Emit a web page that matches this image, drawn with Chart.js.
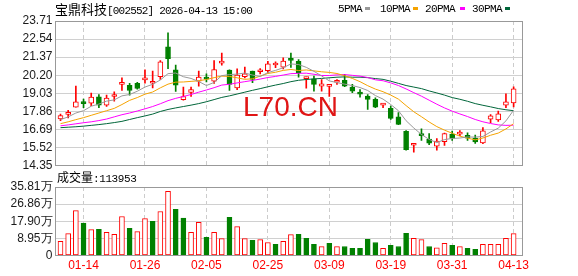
<!DOCTYPE html>
<html>
<head>
<meta charset="utf-8">
<script src="https://cdn.jsdelivr.net/npm/chart.js@4.4.1/dist/chart.umd.min.js"></script>
<style>
body{margin:0;width:578px;height:276px;position:relative;background:#fff;overflow:hidden;font-family:"Liberation Sans",Arial,sans-serif}
canvas{position:absolute;left:0;top:0}
.t{position:absolute;white-space:nowrap;color:#000;line-height:14px}
.cjk{font-family:"Noto Sans CJK SC",sans-serif}
.mono{font-family:"Liberation Mono",monospace}
.sw{position:absolute;width:5px;height:3px}
</style>
</head>
<body>
<canvas id="k" width="578" height="276"></canvas>
<canvas id="v" width="578" height="276"></canvas>

<div class="t" style="left:55px;top:2px"><span class="cjk" style="font-size:13px">宝鼎科技</span><span class="mono" style="font-size:11px;letter-spacing:-0.8px">[002552] 2026-04-13 15:00</span></div>

<div class="t mono" style="left:338px;top:2px;font-size:11px;letter-spacing:-0.6px">5PMA</div><div class="sw" style="left:365px;top:7px;background:#999"></div>
<div class="t mono" style="left:380px;top:2px;font-size:11px;letter-spacing:-0.6px">10PMA</div><div class="sw" style="left:413px;top:7px;background:#f5a300"></div>
<div class="t mono" style="left:425px;top:2px;font-size:11px;letter-spacing:-0.6px">20PMA</div><div class="sw" style="left:460px;top:7px;background:#ff00ff"></div>
<div class="t mono" style="left:472px;top:2px;font-size:11px;letter-spacing:-0.6px">30PMA</div><div class="sw" style="left:505px;top:7px;background:#00663a"></div>

<div class="t" style="left:243px;top:93px;font-size:28px;line-height:28px;color:#e01515">L70.CN</div>

<div class="t" style="left:57px;top:170px"><span class="cjk" style="font-size:12px">成交量</span><span class="mono" style="font-size:11px;letter-spacing:-0.4px">:113953</span></div>

<script>
// trading days shown, one per candle
const dates = ["01-09","01-12","01-13","01-14","01-15","01-16","01-19","01-20","01-21","01-22",
"01-23","01-26","01-27","01-28","01-29","01-30","02-02","02-03","02-04","02-05",
"02-06","02-09","02-10","02-11","02-12","02-13","02-24","02-25","02-26","02-27",
"03-02","03-03","03-04","03-05","03-06","03-09","03-10","03-11","03-12","03-13",
"03-16","03-17","03-18","03-19","03-20","03-23","03-24","03-25","03-26","03-27",
"03-30","03-31","04-01","04-02","04-03","04-07","04-08","04-09","04-10","04-13"]

const open = [17.36,17.66,18.13,18.38,18.39,18.80,18.26,18.82,19.60,19.55,
19.68,19.90,19.68,20.11,22.03,20.55,18.61,19.08,19.82,19.99,
19.82,20.98,20.53,19.38,20.11,20.46,20.42,20.50,20.86,20.72,
21.20,21.10,19.98,19.97,19.49,19.48,19.74,19.86,19.43,19.01,
18.84,18.63,18.26,18.05,17.51,16.57,15.66,16.32,16.06,15.61,
15.89,16.38,16.38,16.30,16.12,15.81,17.35,17.31,18.25,18.40]
const high = [17.68,17.92,19.49,18.65,19.04,18.95,18.91,19.12,20.03,19.68,
19.73,20.54,20.46,21.15,22.95,20.85,19.43,19.43,20.46,20.29,
21.15,21.64,20.55,20.61,20.72,20.46,20.63,21.10,21.06,21.32,
21.64,21.21,20.07,20.14,19.92,19.60,19.92,20.25,19.60,19.27,
18.95,18.74,18.37,18.20,17.77,16.61,15.77,16.73,16.41,16.09,
16.45,16.58,16.61,16.46,16.32,16.80,17.65,17.87,18.99,19.44]
const low = [17.25,17.44,18.13,18.09,18.22,18.09,18.18,18.52,19.21,18.91,
19.29,19.68,19.38,19.92,20.63,19.15,18.58,18.82,19.49,19.77,
19.66,20.85,19.21,19.26,20.03,19.71,20.29,20.35,20.68,20.61,
20.70,20.07,19.36,19.17,19.17,18.82,19.60,19.45,19.06,18.77,
17.98,18.09,18.09,17.34,17.00,15.34,15.21,15.98,15.70,15.34,
15.65,15.98,16.29,15.98,15.78,15.77,17.13,17.20,18.10,18.14]
const close = [17.58,17.77,18.48,18.36,18.78,18.26,18.71,18.91,19.64,19.21,
19.34,20.03,19.81,21.06,21.27,19.55,18.82,19.26,20.07,19.95,
20.57,21.02,19.60,20.20,20.29,19.92,20.53,20.93,20.90,21.12,
21.16,20.35,20.02,19.60,19.64,19.56,19.80,19.49,19.17,18.97,
18.63,18.13,18.35,17.40,17.01,15.38,15.75,16.28,15.80,15.93,
16.41,16.10,16.43,16.12,15.88,16.60,17.57,17.70,18.47,19.31]

// volume in 万 shares
const vol = [7.4,11.4,23.5,16.9,13.5,13.7,12.1,11.1,20.4,14.2,
12.5,19.3,17.9,23.0,33.5,24.2,19.5,12.1,17.4,9.5,
12.1,8.8,20.0,15.1,8.8,7.9,8.3,6.8,5.8,7.4,
10.9,11.1,9.0,5.8,4.6,6.3,4.6,4.7,3.7,3.7,
8.4,6.8,3.7,5.3,4.7,11.6,9.0,8.3,4.7,4.0,
6.3,5.3,4.6,3.7,3.2,5.8,5.8,5.8,9.0,11.4]

const ma5 = [17.32,17.50,17.75,17.90,18.19,18.33,18.52,18.60,18.86,18.95,
19.16,19.43,19.61,19.89,20.30,20.34,20.10,19.99,19.79,19.53,
19.73,20.17,20.24,20.27,20.34,20.21,20.11,20.37,20.51,20.68,
20.93,20.89,20.71,20.45,20.15,19.83,19.72,19.62,19.53,19.40,
19.21,18.88,18.65,18.30,17.90,17.25,16.78,16.36,16.04,15.83,
16.03,16.10,16.13,16.20,16.19,16.23,16.52,16.77,17.24,17.93]
const ma10 = [17.06,17.18,17.32,17.45,17.60,17.75,17.90,18.05,18.30,18.57,
18.75,18.97,19.11,19.38,19.62,19.75,19.76,19.80,19.84,19.92,
20.04,20.14,20.12,20.03,19.93,19.97,20.14,20.31,20.39,20.51,
20.57,20.50,20.54,20.48,20.42,20.38,20.31,20.16,19.99,19.78,
19.52,19.30,19.13,18.91,18.65,18.23,17.83,17.51,17.17,16.87,
16.64,16.44,16.25,16.12,16.01,16.13,16.31,16.45,16.72,17.06]
const ma20 = [16.92,16.98,17.05,17.12,17.18,17.26,17.36,17.50,17.64,17.75,
17.88,18.02,18.17,18.35,18.55,18.70,18.82,18.95,19.10,19.24,
19.39,19.56,19.61,19.70,19.78,19.86,19.95,20.05,20.12,20.21,
20.30,20.32,20.33,20.26,20.18,20.18,20.22,20.24,20.19,20.14,
20.05,19.90,19.84,19.70,19.53,19.31,19.07,18.84,18.58,18.32,
18.08,17.87,17.69,17.52,17.33,17.18,17.07,16.98,16.95,16.96]
const ma30 = [16.80,16.83,16.86,16.90,16.95,17.00,17.06,17.13,17.21,17.33,
17.45,17.56,17.68,17.85,17.98,18.08,18.17,18.26,18.36,18.48,
18.62,18.76,18.86,18.98,19.10,19.22,19.33,19.45,19.56,19.66,
19.78,19.87,19.92,19.96,19.99,20.03,20.07,20.09,20.07,20.07,
20.04,19.98,19.93,19.81,19.67,19.53,19.43,19.33,19.18,19.05,
18.91,18.75,18.64,18.51,18.36,18.25,18.15,18.04,17.96,17.90]

const priceTicks = [14.35,15.52,16.69,17.86,19.03,20.20,21.37,22.54,23.71]
const volTicks = [0,8.95,17.90,26.86,35.81]
const dateTicks = [3,11,19,27,35,43,51,59]

const RED = "#ff0000", GREEN = "#008000"
const up = close.map((c,i)=>c>open[i])
const volUp = close.map((c,i)=>i==0 || c>=close[i-1])

const frame = {
  id:"frame",
  afterDraw(c){
    const a = c.chartArea, x = c.ctx
    const al = p => Math.round(p-0.5)+0.5
    x.save()
    x.strokeStyle = "#999"
    x.lineWidth = 1
    x.strokeRect(al(a.left), al(a.top), al(a.right)-al(a.left), al(a.bottom)-al(a.top))
    x.restore()
  }
}

const xMin = -0.651, xMax = 60.156

function xAxis(showLabels){
  return {
    type:"linear", min:xMin, max:xMax, offset:false,
    afterBuildTicks: s => { s.ticks = dateTicks.map(v=>({value:v})) },
    afterFit: s => { s.height = showLabels ? 20.5 : 0 },
    border:{display:false, dash:[4,3]},
    grid:{color:"#cccccc", drawTicks:false, offset:false},
    ticks:{display:showLabels, padding:3, maxRotation:0, autoSkip:false,
      color:RED, font:{family:"Liberation Sans", size:12},
      callback: v => dates[v]}
  }
}

function yAxis(mn, mx, list, fmt, fsize){
  return {
    min:mn, max:mx,
    afterBuildTicks: s => { s.ticks = list.map(v=>({value:v})) },
    afterFit: s => { s.width = 55.5 },
    border:{display:false},
    grid:{color:"#d0d0d0", drawTicks:false},
    ticks:{padding:3, autoSkip:false, color:"#1a1a1a", font:{family:"Liberation Sans", size:fsize}, callback: fmt}
  }
}

const pts = arr => arr.map((v,i)=>({x:i, y:v}))
const line = (arr, col) => ({type:"line", data:pts(arr), borderColor:col, borderWidth:1,
  pointRadius:0, tension:0, order:0})

new Chart(document.getElementById("k"),{
  type:"bar",
  data:{
    datasets:[
      line(ma5,"#999999"),
      line(ma10,"#f5a300"),
      line(ma20,"#ff00ff"),
      line(ma30,"#00663a"),
      {
        // bodies
        data: open.map((o,i)=>({x:i, y:[o, close[i]]})),
        backgroundColor: up.map(u=>u ? "#ffffff" : GREEN),
        borderColor: up.map(u=>u ? RED : GREEN),
        borderWidth:1, borderSkipped:false, barThickness:5, minBarLength:2,
        grouped:false, order:1
      },
      {
        // wicks
        data: low.map((l,i)=>({x:i, y:[l, high[i]]})),
        backgroundColor: up.map(u=>u ? RED : GREEN),
        borderWidth:0, barThickness:1, grouped:false, order:2
      }
    ]
  },
  options:{
    responsive:false, animation:false,
    layout:{padding:{left:0, right:55.5, top:21, bottom:110.5}},
    plugins:{legend:{display:false}, tooltip:{enabled:false}},
    scales:{
      x: xAxis(false),
      y: yAxis(14.35, 23.71, priceTicks, v=>v.toFixed(2), 12)
    }
  },
  plugins:[frame]
})

new Chart(document.getElementById("v"),{
  type:"bar",
  data:{
    datasets:[{
      data: pts(vol),
      backgroundColor: volUp.map(u=>u ? "#ffffff" : GREEN),
      borderColor: volUp.map(u=>u ? RED : GREEN),
      borderWidth:1, borderSkipped:false, barThickness:5, grouped:false
    }]
  },
  options:{
    responsive:false, animation:false,
    layout:{padding:{left:0, right:55.5, top:187, bottom:0}},
    plugins:{legend:{display:false}, tooltip:{enabled:false}},
    scales:{
      x: xAxis(true),
      y: yAxis(0, 35.81, volTicks, v=> v==0 ? "0" : v.toFixed(2)+"万", 12)
    }
  },
  plugins:[frame]
})
</script>
</body>
</html>
